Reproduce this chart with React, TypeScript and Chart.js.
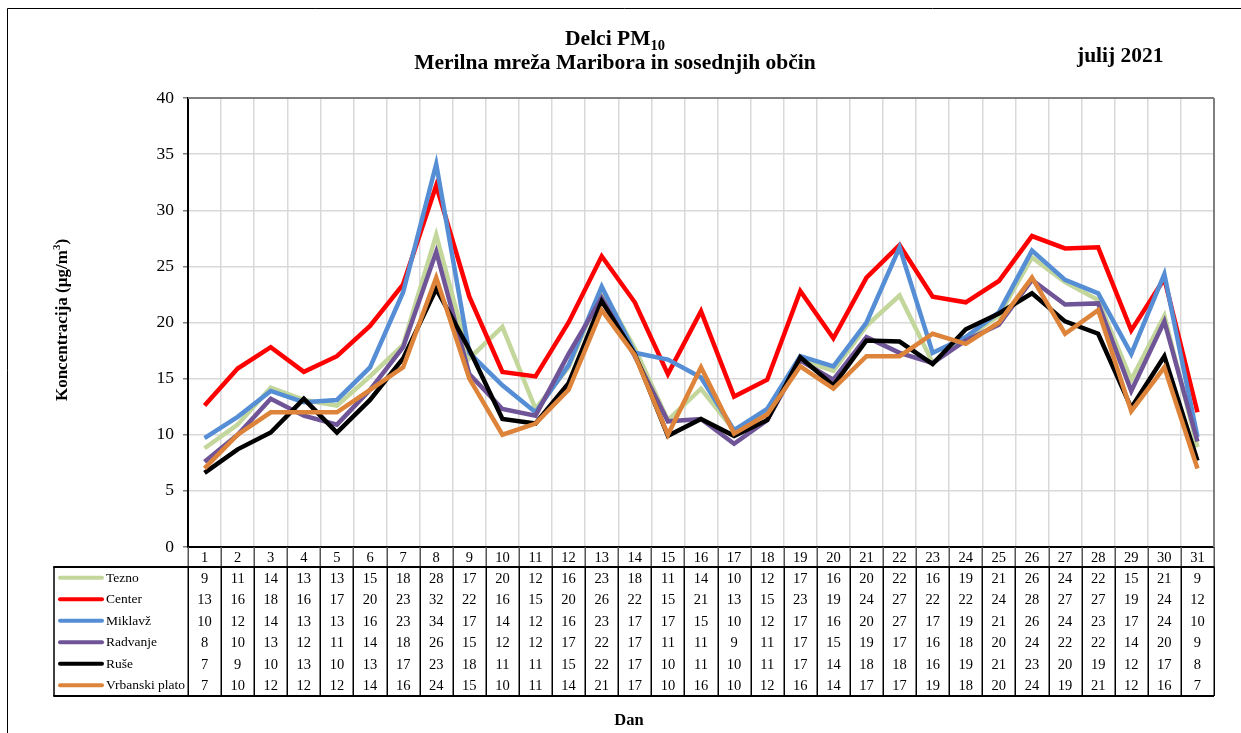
import React, { useEffect, useRef } from "react";
import { Chart, registerables } from "chart.js";

Chart.register(...registerables);

const days = Array.from({ length: 31 }, (_, i) => String(i + 1));
const seriesNames = ["Tezno", "Center", "Miklavž", "Radvanje", "Ruše", "Vrbanski plato"];
const seriesColors = ["#c3d69b", "#ff0000", "#558ed5", "#6f5597", "#000000", "#dd843a"];

const tezno = [8.8, 10.9, 14.2, 13.1, 12.6, 15.2, 18.0, 27.8, 16.8, 19.6, 12.3, 16.0, 23.0, 17.7, 11.3, 14.1, 10.4, 12.0, 16.7, 15.7, 19.7, 22.4, 16.4, 18.6, 20.6, 25.8, 23.6, 22.0, 14.9, 20.6, 8.9];
const center = [12.6, 15.9, 17.8, 15.6, 17.0, 19.7, 23.4, 32.2, 22.3, 15.6, 15.2, 20.0, 25.9, 21.8, 15.4, 21.0, 13.4, 14.9, 22.8, 18.6, 24.0, 26.9, 22.3, 21.8, 23.7, 27.7, 26.6, 26.7, 19.3, 23.9, 12.0];
const miklavz = [9.7, 11.6, 13.9, 12.9, 13.1, 16.0, 22.7, 34.1, 17.3, 14.4, 12.0, 16.2, 23.2, 17.3, 16.7, 15.1, 10.4, 12.3, 17.0, 16.1, 20.0, 26.7, 17.3, 18.7, 20.9, 26.4, 23.8, 22.6, 17.2, 24.3, 9.8];
const radvanje = [7.6, 10.0, 13.2, 11.7, 10.9, 14.0, 17.8, 26.3, 15.4, 12.3, 11.7, 17.2, 22.2, 17.0, 11.2, 11.4, 9.2, 11.3, 16.6, 14.9, 18.7, 17.3, 16.4, 18.4, 19.8, 23.8, 21.6, 21.7, 13.9, 20.1, 9.4];
const ruse = [6.6, 8.7, 10.2, 13.2, 10.2, 13.1, 16.8, 23.0, 17.6, 11.4, 11.0, 14.6, 21.9, 17.2, 9.9, 11.4, 9.9, 11.3, 16.9, 14.4, 18.4, 18.3, 16.3, 19.4, 20.8, 22.6, 20.1, 19.0, 12.4, 17.0, 7.7];
const vrbanski = [7.0, 10.0, 12.0, 12.0, 12.0, 14.0, 16.0, 24.0, 15.0, 10.0, 11.0, 14.0, 21.1, 17.1, 10.0, 16.0, 10.1, 11.8, 16.1, 14.1, 17.0, 17.0, 19.0, 18.1, 20.0, 24.0, 19.0, 21.1, 12.1, 16.0, 7.0];
const seriesValues = [tezno, center, miklavz, radvanje, ruse, vrbanski];

const titleMain = "Delci PM";
const titleSub = "10";
const titleLine2 = "Merilna mreža Maribora in sosednjih občin";
const monthLabel = "julij 2021";
const yTitle = "Koncentracija (µg/m";
const yTitleSup = "3";
const xTitle = "Dan";

const FONT = '"Liberation Serif", "Times New Roman", serif';

const decorPlugin = {
  id: "decor",
  afterDraw(chart: any) {
    const ctx = chart.ctx as CanvasRenderingContext2D;
    const area = chart.chartArea;
    const xs = chart.scales.x;
    const colW = xs.getPixelForValue(1) - xs.getPixelForValue(0);
    ctx.save();

    // outer frame
    ctx.strokeStyle = "#000";
    ctx.lineWidth = 1;
    ctx.beginPath();
    ctx.moveTo(7.5, 733);
    ctx.lineTo(7.5, 8.5);
    ctx.lineTo(1241, 8.5);
    ctx.stroke();

    // top & right plot border
    ctx.strokeStyle = "#7f7f7f";
    ctx.lineWidth = 2;
    ctx.beginPath();
    ctx.moveTo(area.left, area.top);
    ctx.lineTo(area.right, area.top);
    ctx.moveTo(area.right, area.top);
    ctx.lineTo(area.right, area.bottom);
    ctx.stroke();

    // titles
    ctx.fillStyle = "#000";
    ctx.textBaseline = "alphabetic";
    ctx.font = `bold 21.5px ${FONT}`;
    const w1 = ctx.measureText(titleMain).width;
    ctx.font = `bold 14.5px ${FONT}`;
    const w2 = ctx.measureText(titleSub).width;
    const cx = 615;
    let tx = cx - (w1 + w2) / 2;
    ctx.textAlign = "left";
    ctx.font = `bold 21.5px ${FONT}`;
    ctx.fillText(titleMain, tx, 45);
    ctx.font = `bold 14.5px ${FONT}`;
    ctx.fillText(titleSub, tx + w1, 50);
    ctx.font = `bold 21.5px ${FONT}`;
    ctx.textAlign = "center";
    ctx.fillText(titleLine2, cx, 69);
    ctx.textAlign = "left";
    ctx.fillText(monthLabel, 1077, 62);

    // x title
    ctx.font = `bold 16.5px ${FONT}`;
    ctx.textAlign = "center";
    ctx.fillText(xTitle, 629, 725);

    // y title
    ctx.save();
    ctx.translate(67, 320);
    ctx.rotate(-Math.PI / 2);
    ctx.font = `bold 17px ${FONT}`;
    const a = ctx.measureText(yTitle).width;
    ctx.font = `bold 11px ${FONT}`;
    const b = ctx.measureText(yTitleSup).width;
    ctx.font = `bold 17px ${FONT}`;
    const c = ctx.measureText(")").width;
    let yx = -(a + b + c) / 2;
    ctx.textAlign = "left";
    ctx.fillText(yTitle, yx, 0);
    ctx.font = `bold 11px ${FONT}`;
    ctx.fillText(yTitleSup, yx + a, -7);
    ctx.font = `bold 17px ${FONT}`;
    ctx.fillText(")", yx + a + b, 0);
    ctx.restore();

    // data table
    const headTop = area.bottom;
    const headBot = area.bottom + 20;
    const rowH = 21.5;
    const tabBot = headBot + rowH * seriesNames.length;
    const legLeft = 54;

    ctx.strokeStyle = "#555";
    ctx.lineWidth = 1.5;
    ctx.beginPath();
    for (let i = 0; i <= days.length; i++) {
      const x = Math.round(area.left + i * colW) + 0.25;
      ctx.moveTo(x, headTop);
      ctx.lineTo(x, headBot);
    }
    ctx.stroke();

    ctx.strokeStyle = "#000";
    ctx.lineWidth = 1.5;
    ctx.beginPath();
    for (let i = 0; i <= days.length; i++) {
      const x = Math.round(area.left + i * colW) + 0.25;
      ctx.moveTo(x, headBot);
      ctx.lineTo(x, tabBot);
    }
    ctx.moveTo(legLeft, headBot);
    ctx.lineTo(legLeft, tabBot);
    ctx.stroke();

    ctx.lineWidth = 2;
    ctx.beginPath();
    ctx.moveTo(legLeft - 0.75, headBot);
    ctx.lineTo(area.right, headBot);
    ctx.moveTo(legLeft - 0.75, tabBot);
    ctx.lineTo(area.right, tabBot);
    ctx.stroke();

    ctx.font = `14.5px ${FONT}`;
    ctx.textAlign = "center";
    ctx.textBaseline = "middle";
    ctx.fillStyle = "#000";
    for (let i = 0; i < days.length; i++) {
      const x = xs.getPixelForValue(i);
      ctx.fillText(days[i], x, (headTop + headBot) / 2 + 1);
      for (let r = 0; r < seriesNames.length; r++) {
        const y = headBot + rowH * (r + 0.5) + 1;
        ctx.fillText(String(Math.round(seriesValues[r][i])), x, y);
      }
    }

    ctx.textAlign = "left";
    for (let r = 0; r < seriesNames.length; r++) {
      const y = headBot + rowH * (r + 0.5);
      ctx.strokeStyle = seriesColors[r];
      ctx.lineWidth = 4;
      ctx.lineCap = "round";
      ctx.beginPath();
      ctx.moveTo(60, y);
      ctx.lineTo(102, y);
      ctx.stroke();
      ctx.fillStyle = "#000";
      ctx.font = `13.5px ${FONT}`;
      ctx.fillText(seriesNames[r], 106, y + 0.5);
    }

    ctx.restore();
  },
};

export default function App() {
  const ref = useRef<HTMLCanvasElement | null>(null);

  useEffect(() => {
    if (!ref.current) return;
    const chart = new Chart(ref.current, {
      type: "line",
      data: {
        labels: days,
        datasets: seriesNames.map((name, i) => ({
          label: name,
          data: seriesValues[i],
          borderColor: seriesColors[i],
          backgroundColor: seriesColors[i],
          borderWidth: 4.5,
          pointRadius: 0,
          tension: 0,
          fill: false,
          order: seriesNames.length - i,
        })),
      },
      options: {
        animation: false,
        responsive: false,
        devicePixelRatio: 1,
        layout: { padding: { top: 98, right: 27, bottom: 186, left: 0 } },
        plugins: {
          legend: { display: false },
          title: { display: false },
          tooltip: { enabled: false },
        },
        scales: {
          x: {
            type: "category",
            offset: true,
            grid: { offset: true, color: "#d9d9d9", lineWidth: 1.5, drawTicks: false },
            ticks: { display: false },
            border: { color: "#000", width: 2 },
            afterFit: (s: any) => {
              s.height = 0;
            },
          },
          y: {
            min: 0,
            max: 40,
            ticks: {
              stepSize: 5,
              color: "#000",
              padding: 9,
              font: { family: FONT, size: 17.5 },
            },
            grid: {
              color: "#d9d9d9",
              lineWidth: 1.5,
              tickLength: 5,
              tickColor: "#7f7f7f",
            },
            border: { color: "#000", width: 2 },
            afterFit: (s: any) => {
              s.width = 188;
            },
          },
        },
      },
      plugins: [decorPlugin],
    });
    return () => chart.destroy();
  }, []);

  return (
    <div style={{ position: "absolute", left: 0, top: 0, width: 1241, height: 733, background: "#fff" }}>
      <canvas ref={ref} width={1241} height={733} style={{ display: "block" }} />
    </div>
  );
}
